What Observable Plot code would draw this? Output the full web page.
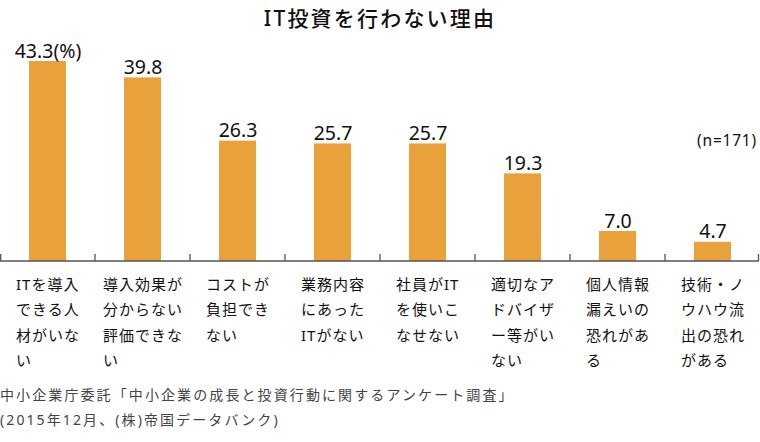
<!DOCTYPE html>
<html><head><meta charset="utf-8">
<script src="https://cdn.jsdelivr.net/npm/d3@7"></script>
<script src="https://cdn.jsdelivr.net/npm/@observablehq/plot@0.6"></script>
<style>
html,body{margin:0;padding:0;background:#fff;}
body{width:760px;height:442px;position:relative;overflow:hidden;font-family:"Noto Sans","Noto Sans CJK JP",sans-serif;color:#111;}
#title{height:36px;line-height:36px;text-align:center;font-size:21px;letter-spacing:2.2px;font-weight:500;}
#note{position:absolute;top:130px;right:3px;font-size:15.5px;letter-spacing:0.8px;line-height:20px;}
#src{font-size:14px;color:#444;letter-spacing:2.1px;line-height:25px;}
#chart svg{display:block;}
</style></head><body>
<div id="title">IT投資を行わない理由</div>
<div id="note">(n=171)</div>
<div id="chart"></div>
<div id="src"></div>
<script>
const categories = [
  "ITを導入できる人材がいない",
  "導入効果が分からない評価できない",
  "コストが負担できない",
  "業務内容にあったITがない",
  "社員がITを使いこなせない",
  "適切なアドバイザー等がいない",
  "個人情報漏えいの恐れがある",
  "技術・ノウハウ流出の恐れがある"
];
const tickLabels = [
  "ITを導入\nできる人\n材がいな\nい",
  "導入効果が\n分からない\n評価できな\nい",
  "コストが\n負担でき\nない",
  "業務内容\nにあった\nITがない",
  "社員がIT\nを使いこ\nなせない",
  "適切なア\nドバイザ\nー等がい\nない",
  "個人情報\n漏えいの\n恐れがあ\nる",
  "技術・ノ\nウハウ流\n出の恐れ\nがある"
];
const values = [43.3, 39.8, 26.3, 25.7, 25.7, 19.3, 7.0, 4.7];
const unitLabel = "(%)";
const sampleNote = "(n=171)";
const titleText = "IT投資を行わない理由";
const sourceLines = [
  "中小企業庁委託「中小企業の成長と投資行動に関するアンケート調査」",
  "(2015年12月、(株)帝国データバンク)"
];

document.getElementById("title").textContent = titleText;
document.getElementById("note").textContent = sampleNote;
document.getElementById("src").innerHTML = sourceLines.map(s => `<div>${s}</div>`).join("");

const data = categories.map((c, i) => ({cat: c, value: values[i], tick: tickLabels[i]}));
const yMin = 0.6, yMax = 43.3;
const barColor = "#e8a13b";
const fontStack = '"Noto Sans","Noto Sans CJK JP",sans-serif';

function boundaryTicks(index, scales, values, dims) {
  const {width, height, marginLeft, marginRight, marginBottom} = dims;
  const n = categories.length;
  const step = (width - marginLeft - marginRight) / n;
  const y0 = height - marginBottom;
  const g = d3.create("svg:g").attr("stroke", "#555").attr("stroke-width", 1.3).attr("fill", "none");
  g.append("line").attr("x1", marginLeft).attr("x2", width - 1).attr("y1", y0).attr("y2", y0);
  for (let i = 0; i <= n; i++) {
    const xx = Math.max(0.7, Math.min(marginLeft + i * step, width - 1.5));
    g.append("line").attr("x1", xx).attr("x2", xx).attr("y1", y0).attr("y2", y0 - 7);
  }
  return g.node();
}

const chart = Plot.plot({
  width: 760,
  height: 346,
  marginTop: 25,
  marginBottom: 121,
  marginLeft: 0,
  marginRight: 0,
  style: {fontFamily: fontStack, background: "#fff", color: "#111", overflow: "visible"},
  x: {domain: categories, paddingInner: 0.61, paddingOuter: 0.305, axis: null},
  y: {domain: [yMin, yMax], axis: null},
  marks: [
    Plot.rectY(data, {x: "cat", y1: () => yMin, y2: "value", fill: barColor}),
    boundaryTicks,
    Plot.text(data, {x: "cat", y: "value", text: (d, i) => d.value.toFixed(1) + (i === 0 ? unitLabel : ""), lineAnchor: "bottom", dy: -4, fontSize: 19.5, fill: "#111"}),
    Plot.text(data, {x: "cat", frameAnchor: "bottom", text: "tick", lineAnchor: "top", textAnchor: "start", dy: 10, lineHeight: 1.7, fontSize: 15, fill: "#111", className: "xlab"})
  ]
});
document.getElementById("chart").appendChild(chart);

// center each wrapped tick label block under its bar while keeping lines left-aligned
const xlabTexts = chart.querySelectorAll(".xlab text");
xlabTexts.forEach(t => { t.style.letterSpacing = "1px"; });
xlabTexts.forEach(t => {
  const w = t.getBBox().width;
  const wrap = document.createElementNS("http://www.w3.org/2000/svg", "g");
  wrap.setAttribute("transform", `translate(${-w / 2},0)`);
  t.parentNode.insertBefore(wrap, t);
  wrap.appendChild(t);
});
</script>
</body></html>
